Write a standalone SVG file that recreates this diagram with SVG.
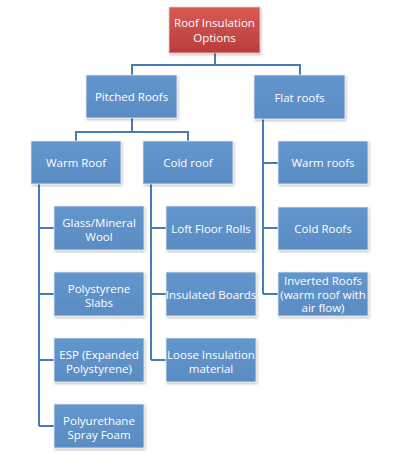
<svg xmlns="http://www.w3.org/2000/svg" width="400" height="460" viewBox="0 0 400 460">
<defs>
<linearGradient id="red" x1="0" y1="0" x2="0" y2="1">
<stop offset="0" stop-color="#d95a56"/>
<stop offset="1" stop-color="#b83d39"/>
</linearGradient>
<linearGradient id="blue" x1="0" y1="0" x2="0" y2="1">
<stop offset="0" stop-color="#6396cd"/>
<stop offset="1" stop-color="#5a8cc4"/>
</linearGradient>
<filter id="sh" x="-10%" y="-10%" width="125%" height="130%">
<feDropShadow dx="1" dy="1.5" stdDeviation="1" flood-color="#000" flood-opacity="0.25"/>
</filter>
</defs>
<style>
.b{fill:url(#blue);stroke:#e8eef6;stroke-width:0.8;filter:url(#sh)}
.r{fill:url(#red);stroke:#e8d0d0;stroke-width:0.8;filter:url(#sh)}
text{font-family:"Open Sans","Liberation Sans",sans-serif;font-size:11.5px;fill:#fff;text-anchor:middle}
.c{fill:none;stroke:#4a7bb7;stroke-width:2}
</style>
<rect width="400" height="460" fill="#fff"/>
<g id="connectors">
<path class="c" d="M215,53 V65 M132,75 V65 H300 V75"/>
<path class="c" d="M132,118 V132 M76,141 V132 H188 V141"/>
<path class="c" d="M39,184 V426 M39,228 H54 M39,294 H54 M39,360 H54 M39,426 H54"/>
<path class="c" d="M151,184 V360 M151,228 H166 M151,294 H166 M151,360 H166"/>
<path class="c" d="M263,119 V294 M263,163 H278 M263,228 H278 M263,294 H278"/>
</g>
<g id="root"><rect class="r" x="169" y="7" width="91" height="46"/><text x="214.5" y="27">Roof Insulation</text><text x="214.5" y="41.5">Options</text></g>
<g id="pitched"><rect class="b" x="86" y="75" width="91" height="43"/><text x="131.5" y="101">Pitched Roofs</text></g>
<g id="flat"><rect class="b" x="254" y="75" width="91" height="44"/><text x="299.5" y="101.5">Flat roofs</text></g>
<g id="warm-roof"><rect class="b" x="31" y="141" width="90" height="43"/><text x="76" y="167">Warm Roof</text></g>
<g id="cold-roof"><rect class="b" x="143" y="141" width="90" height="43"/><text x="188" y="167">Cold roof</text></g>
<g id="glass"><rect class="b" x="54" y="206" width="90" height="44"/><text x="99" y="227">Glass/Mineral</text><text x="99" y="241">Wool</text></g>
<g id="polystyrene"><rect class="b" x="54" y="272" width="90" height="44"/><text x="99" y="293">Polystyrene</text><text x="99" y="307">Slabs</text></g>
<g id="esp"><rect class="b" x="54" y="338" width="90" height="44"/><text x="99" y="359">ESP (Expanded</text><text x="99" y="373">Polystyrene)</text></g>
<g id="polyurethane"><rect class="b" x="54" y="404" width="90" height="44"/><text x="99" y="425">Polyurethane</text><text x="99" y="439">Spray Foam</text></g>
<g id="loft"><rect class="b" x="166" y="206" width="90" height="44"/><text x="211" y="232.5">Loft Floor Rolls</text></g>
<g id="boards"><rect class="b" x="166" y="272" width="90" height="44"/><text x="211" y="298.5">Insulated Boards</text></g>
<g id="loose"><rect class="b" x="166" y="338" width="90" height="44"/><text x="211" y="359">Loose Insulation</text><text x="211" y="373">material</text></g>
<g id="warm-roofs"><rect class="b" x="278" y="141" width="90" height="43"/><text x="323" y="167">Warm roofs</text></g>
<g id="cold-roofs"><rect class="b" x="278" y="207" width="90" height="43"/><text x="323" y="233">Cold Roofs</text></g>
<g id="inverted"><rect class="b" x="278" y="272" width="90" height="44"/><text x="323" y="285">Inverted Roofs</text><text x="323" y="298.5">(warm roof with</text><text x="323" y="312">air flow)</text></g>
</svg>
